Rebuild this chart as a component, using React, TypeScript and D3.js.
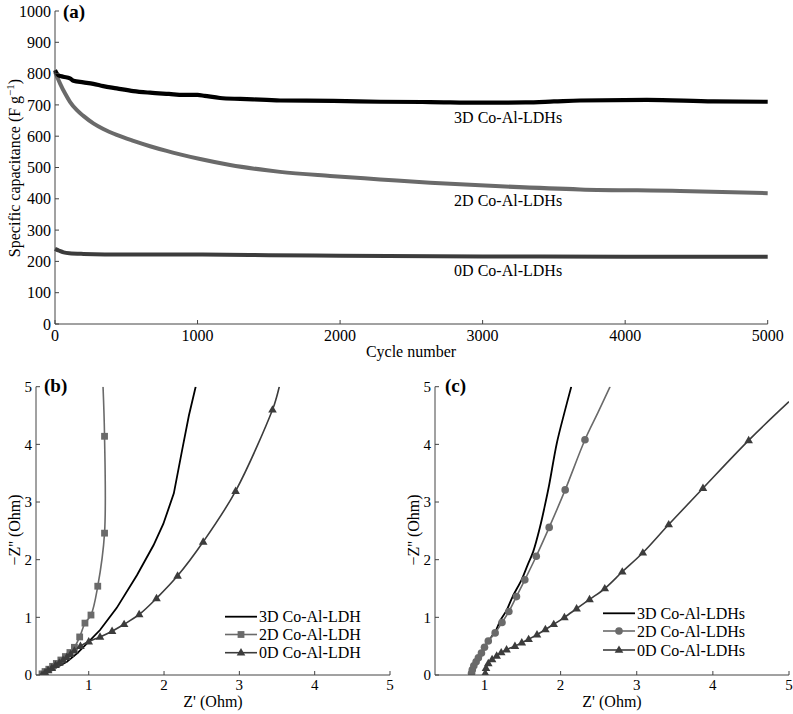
import React from "react";
import * as d3 from "d3";

// ---------- Panel (a) data ----------
const cyc3D = [0, 23, 58, 105, 129, 199, 269, 339, 433, 550, 667, 800, 900, 1000, 1050, 1158, 1300, 1485, 1579, 1953, 2280, 2632, 2982, 3300, 3500, 3684, 4152, 4620, 5000];
const cap3D = [811, 795, 790, 785, 777, 772, 767, 760, 753, 744, 739, 735, 732, 732, 729, 722, 719, 716, 714, 713, 710, 709, 707, 708, 711, 714, 716, 711, 710];
const cyc2D = [0, 35, 70, 105, 152, 199, 269, 339, 433, 550, 667, 783, 877, 1018, 1228, 1487, 1579, 1930, 2281, 2632, 2982, 3684, 4386, 5000];
const cap2D = [806, 769, 737, 710, 684, 665, 641, 623, 604, 585, 568, 553, 542, 527, 508, 491, 486, 473, 462, 451, 443, 430, 425, 418];
const cyc0D = [0, 30, 60, 100, 200, 500, 1000, 1500, 2000, 3000, 4000, 5000];
const cap0D = [240, 234, 229, 226, 224, 222, 222, 220, 218, 216, 215, 215];
const xTicksA = [0, 1000, 2000, 3000, 4000, 5000];
const yTicksA = [0, 100, 200, 300, 400, 500, 600, 700, 800, 900, 1000];
const labelsA = ["3D Co-Al-LDHs", "2D Co-Al-LDHs", "0D Co-Al-LDHs"];

// ---------- Panel (b) data ----------
const b3D: [number, number][] = [[0.36, 0], [0.5, 0.08], [0.71, 0.23], [0.85, 0.38], [1.0, 0.58], [1.15, 0.78], [1.37, 1.16], [1.64, 1.73], [1.86, 2.25], [1.99, 2.62], [2.13, 3.15], [2.24, 3.9], [2.33, 4.5], [2.42, 5.0]];
const b2D: [number, number][] = [[0.38, 0.02], [0.42, 0.06], [0.47, 0.1], [0.52, 0.15], [0.57, 0.2], [0.63, 0.26], [0.69, 0.32], [0.75, 0.39], [0.81, 0.48], [0.88, 0.66], [0.95, 0.9], [1.03, 1.04], [1.12, 1.54], [1.21, 2.46], [1.21, 4.14]];
const b2DEnd: [number, number][] = [[1.19, 5.0]];
const b0D: [number, number][] = [[0.38, 0.0], [0.42, 0.04], [0.46, 0.08], [0.51, 0.12], [0.56, 0.17], [0.61, 0.21], [0.66, 0.26], [0.71, 0.31], [0.76, 0.36], [0.81, 0.42], [0.89, 0.5], [1.0, 0.58], [1.15, 0.66], [1.31, 0.76], [1.47, 0.88], [1.67, 1.05], [1.9, 1.33], [2.18, 1.72], [2.52, 2.31], [2.95, 3.19], [3.44, 4.6]];
const b0DEnd: [number, number][] = [[3.49, 4.8], [3.53, 5.0]];
const legendB = ["3D Co-Al-LDH", "2D Co-Al-LDH", "0D Co-Al-LDH"];

// ---------- Panel (c) data ----------
const c2D: [number, number][] = [[0.83, 0.03], [0.84, 0.09], [0.86, 0.16], [0.89, 0.23], [0.92, 0.3], [0.96, 0.38], [1.0, 0.48], [1.05, 0.59], [1.14, 0.73], [1.23, 0.91], [1.32, 1.1], [1.42, 1.36], [1.53, 1.65], [1.68, 2.06], [1.85, 2.56], [2.06, 3.21], [2.32, 4.08]];
const c2DEnd: [number, number][] = [[2.49, 4.55], [2.65, 5.0]];
const c3D: [number, number][] = [[0.83, 0.03], [0.86, 0.16], [0.92, 0.3], [1.0, 0.48], [1.05, 0.59], [1.14, 0.75], [1.21, 0.95], [1.29, 1.12], [1.37, 1.36], [1.49, 1.66], [1.57, 1.92], [1.64, 2.14], [1.73, 2.57], [1.79, 2.92], [1.85, 3.3], [1.95, 4.02], [2.05, 4.55], [2.14, 5.0]];
const c0D: [number, number][] = [[1.01, 0.03], [1.02, 0.12], [1.05, 0.2], [1.1, 0.27], [1.16, 0.33], [1.22, 0.39], [1.29, 0.44], [1.4, 0.5], [1.49, 0.56], [1.58, 0.62], [1.69, 0.7], [1.8, 0.79], [1.91, 0.88], [2.05, 1.0], [2.21, 1.15], [2.38, 1.31], [2.58, 1.5], [2.81, 1.79], [3.08, 2.12], [3.42, 2.61], [3.87, 3.24], [4.47, 4.07]];
const c0DEnd: [number, number][] = [[5.0, 4.74]];
const legendC = ["3D Co-Al-LDHs", "2D Co-Al-LDHs", "0D Co-Al-LDHs"];
const xTicksBC = [1, 2, 3, 4, 5];
const yTicksBC = [0, 1, 2, 3, 4, 5];

const FONT = "'Liberation Serif', 'Times New Roman', serif";
const AXIS = "#444";
const C3 = "#000";
const C2 = "#6a6a6a";
const C0 = "#3c3c3c";

function PanelA() {
  const x = d3.scaleLinear().domain([0, 5000]).range([55, 767.7]);
  const y = d3.scaleLinear().domain([0, 1000]).range([324, 11]);
  const mk = (cs: number[], vs: number[]) =>
    d3.line<number>().x((_, i) => x(cs[i])).y((v) => y(v)).curve(d3.curveMonotoneX)(vs) || "";
  const labelX = x(2800);
  return (
    <g fontFamily={FONT}>
      <path d={mk(cyc0D, cap0D)} fill="none" stroke={C0} strokeWidth={4} />
      <path d={mk(cyc2D, cap2D)} fill="none" stroke={C2} strokeWidth={4} />
      <path d={mk(cyc3D, cap3D)} fill="none" stroke={C3} strokeWidth={4.2} />
      <line x1={x(0)} x2={x(5000)} y1={y(0)} y2={y(0)} stroke={AXIS} strokeWidth={1} />
      <line x1={x(0)} x2={x(0)} y1={y(0)} y2={y(1000)} stroke={AXIS} strokeWidth={1} />
      {xTicksA.map((t) => (
        <g key={"xa" + t}>
          <line x1={x(t)} x2={x(t)} y1={y(0)} y2={y(0) - 4} stroke={AXIS} />
          <text x={x(t)} y={341} fontSize={16} textAnchor="middle">{t}</text>
        </g>
      ))}
      {yTicksA.map((t) => (
        <g key={"ya" + t}>
          <line x1={x(0)} x2={x(0) + 4} y1={y(t)} y2={y(t)} stroke={AXIS} />
          <text x={51} y={y(t)} dy="0.35em" fontSize={16} textAnchor="end">{t}</text>
        </g>
      ))}
      <text x={63} y={18} fontSize={19} fontWeight="bold">(a)</text>
      <text x={411} y={357} fontSize={16} textAnchor="middle">Cycle number</text>
      <text transform="translate(20,168) rotate(-90)" fontSize={16} textAnchor="middle">
        Specific capacitance (F g<tspan fontSize={11} dy={-6}>−1</tspan><tspan dy={6}>)</tspan>
      </text>
      <text x={labelX} y={122.7} fontSize={16}>{labelsA[0]}</text>
      <text x={labelX} y={206} fontSize={16}>{labelsA[1]}</text>
      <text x={labelX} y={276} fontSize={16}>{labelsA[2]}</text>
    </g>
  );
}

type Marker = "square" | "circle" | "triangle" | "none";

function MarkerShape({ cx, cy, kind, color }: { cx: number; cy: number; kind: Marker; color: string }) {
  if (kind === "square") return <rect x={cx - 3.4} y={cy - 3.4} width={6.8} height={6.8} fill={color} />;
  if (kind === "circle") return <circle cx={cx} cy={cy} r={3.8} fill={color} />;
  if (kind === "triangle") {
    const s = 8.6;
    const h = s * 0.866;
    return <path d={`M${cx},${cy - h * 0.62}L${cx + s / 2},${cy + h * 0.38}L${cx - s / 2},${cy + h * 0.38}Z`} fill={color} />;
  }
  return null;
}

type Series = { pts: [number, number][]; end: [number, number][]; color: string; width: number; marker: Marker; curve: d3.CurveFactory };

function PanelEIS({ id, x0, xMin, label, labelX, series, legend, legendX, legendY }: {
  id: string; x0: number; xMin: number; label: string; labelX: number; series: Series[]; legend: string[]; legendX: number; legendY: number[];
}) {
  const x = d3.scaleLinear().domain([xMin, 5]).range([x0, x0 + 354]);
  const y = d3.scaleLinear().domain([0, 5]).range([675, 386.7]);
  return (
    <g fontFamily={FONT}>
      <defs>
        <clipPath id={"clip" + id}>
          <rect x={x0} y={386.7} width={354} height={675 - 386.7} />
        </clipPath>
      </defs>
      <g clipPath={`url(#clip${id})`}>
        {series.map((s, i) => {
          const all = s.pts.concat(s.end);
          const d = d3.line<[number, number]>().x((p) => x(p[0])).y((p) => y(p[1])).curve(s.curve)(all) || "";
          return <path key={"l" + i} d={d} fill="none" stroke={s.color} strokeWidth={s.width} />;
        })}
        {series.map((s, i) =>
          s.marker === "none" ? null : s.pts.map((p, j) => (
            <MarkerShape key={`m${i}-${j}`} cx={x(p[0])} cy={y(p[1])} kind={s.marker} color={s.color} />
          ))
        )}
      </g>
      <line x1={x0} x2={x0 + 354} y1={675} y2={675} stroke={AXIS} />
      <line x1={x0} x2={x0} y1={675} y2={386.7} stroke={AXIS} />
      {xTicksBC.map((t) => (
        <g key={"xt" + t}>
          <line x1={x(t)} x2={x(t)} y1={675} y2={671} stroke={AXIS} />
          <text x={x(t)} y={689.5} fontSize={15} textAnchor="middle">{t}</text>
        </g>
      ))}
      {yTicksBC.map((t) => (
        <g key={"yt" + t}>
          <line x1={x0} x2={x0 + 4} y1={y(t)} y2={y(t)} stroke={AXIS} />
          <text x={x0 - 4} y={y(t)} dy="0.35em" fontSize={15} textAnchor="end">{t}</text>
        </g>
      ))}
      <text x={labelX} y={392} fontSize={19} fontWeight="bold">{label}</text>
      <text x={x0 + 177} y={707} fontSize={16} textAnchor="middle">Z' (Ohm)</text>
      <text transform={`translate(${x0 - 16},530) rotate(-90)`} fontSize={16} textAnchor="middle">−Z'' (Ohm)</text>
      {series.map((s, i) => (
        <g key={"lg" + i}>
          <line x1={legendX} x2={legendX + 32} y1={legendY[i]} y2={legendY[i]} stroke={s.color} strokeWidth={s.width} />
          <MarkerShape cx={legendX + 16} cy={legendY[i]} kind={s.marker} color={s.color} />
          <text x={legendX + 34} y={legendY[i]} dy="0.35em" fontSize={16}>{legend[i]}</text>
        </g>
      ))}
    </g>
  );
}

export default function App() {
  const seriesB: Series[] = [
    { pts: b3D, end: [], color: C3, width: 1.8, marker: "none", curve: d3.curveLinear },
    { pts: b2D, end: b2DEnd, color: C2, width: 1.6, marker: "square", curve: d3.curveCatmullRom },
    { pts: b0D, end: b0DEnd, color: C0, width: 1.6, marker: "triangle", curve: d3.curveCatmullRom },
  ];
  const seriesC: Series[] = [
    { pts: c3D, end: [], color: C3, width: 1.8, marker: "none", curve: d3.curveCatmullRom },
    { pts: c2D, end: c2DEnd, color: C2, width: 1.6, marker: "circle", curve: d3.curveCatmullRom },
    { pts: c0D, end: c0DEnd, color: C0, width: 1.6, marker: "triangle", curve: d3.curveCatmullRom },
  ];
  return (
    <svg width={793} height={714} style={{ position: "absolute", left: 0, top: 0, background: "#fff" }}>
      <rect width={793} height={714} fill="#fff" />
      <PanelA />
      <PanelEIS id="b" x0={36} xMin={0.3} label="(b)" labelX={44} series={seriesB} legend={legendB} legendX={225} legendY={[616.7, 634.5, 652.7]} />
      <PanelEIS id="c" x0={435} xMin={0.35} label="(c)" labelX={445} series={seriesC} legend={legendC} legendX={603} legendY={[613.3, 631, 650]} />
    </svg>
  );
}
